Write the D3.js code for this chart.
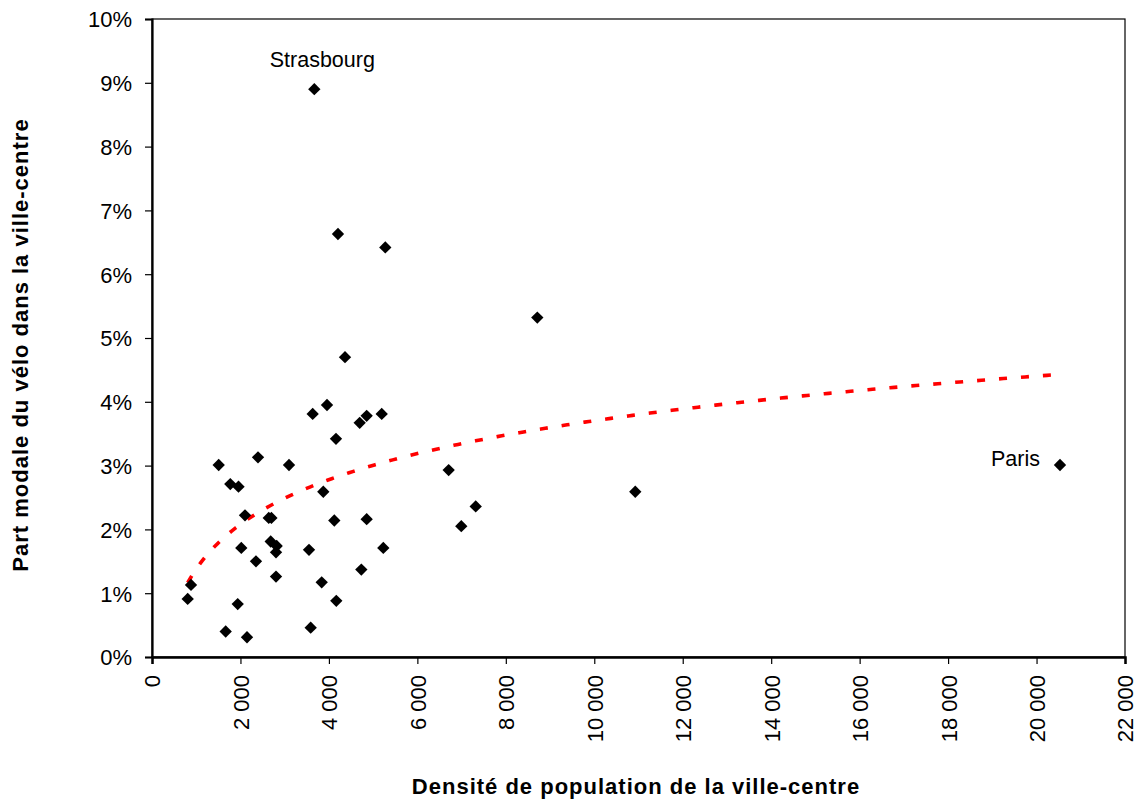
<!DOCTYPE html>
<html>
<head>
<meta charset="utf-8">
<script src="https://cdn.jsdelivr.net/npm/d3@7"></script>
<style>
  html, body { margin: 0; padding: 0; background: #fff; }
  svg { display: block; }
  text { font-family: "Liberation Sans", Arial, sans-serif; fill: #000; }
</style>
</head>
<body>
<svg id="chart" width="1141" height="801"></svg>
<script>
// Density of the central city (inhabitants / km²)
const density = [807, 882, 1508, 1666, 1770, 1956, 1938, 2019, 2103, 2148,
  2351, 2397, 2640, 2700, 2684, 2819, 2804, 2804, 3098, 3550,
  3588, 3633, 3670, 3837, 3873, 3957, 4122, 4160, 4167, 4205,
  5275, 4364, 4696, 4733, 4854, 4854, 5194, 5230, 6708, 6993,
  7319, 8712, 10927, 20530];
// Bicycle modal share in the central city (%)
const bikeShare = [0.91, 1.13, 3.01, 0.40, 2.71, 2.67, 0.83, 1.71, 2.22, 0.31,
  1.50, 3.13, 2.18, 2.18, 1.81, 1.74, 1.64, 1.26, 3.01, 1.68,
  0.46, 3.81, 8.90, 1.17, 2.59, 3.95, 2.14, 3.42, 0.88, 6.63,
  6.42, 4.70, 3.67, 1.37, 3.78, 2.16, 3.81, 1.71, 2.93, 2.05,
  2.36, 5.32, 2.59, 3.01];
// Labelled cities (index into the arrays above)
const labelNames = ["Strasbourg", "Paris"];
const labelIndex = [22, 43];

const xTicks = [0, 2000, 4000, 6000, 8000, 10000, 12000, 14000, 16000, 18000, 20000, 22000];
const yTicks = [0, 1, 2, 3, 4, 5, 6, 7, 8, 9, 10];

const svg = d3.select("#chart");
const L = 152, R = 1125, T = 19, B = 657;

const x = d3.scaleLinear().domain([0, 22000]).range([L, R]);
const y = d3.scaleLinear().domain([0, 10]).range([B, T]);

const fr = d3.formatLocale({decimal: ",", thousands: "\u00a0", grouping: [3], currency: ["", ""]});
const fmtX = fr.format(",d");

// plot frame
svg.append("rect").attr("x", L).attr("y", T).attr("width", R - L).attr("height", B - T)
  .attr("fill", "none").attr("stroke", "#000").attr("stroke-width", 1.2);

// Y axis
const yAxis = svg.append("g").attr("transform", `translate(${L},0)`)
  .call(d3.axisLeft(y).tickValues(yTicks).tickFormat(d => d + "%").tickSize(7).tickPadding(13));
yAxis.select(".domain").attr("stroke-width", 2.2);
yAxis.selectAll(".tick line").attr("stroke-width", 1.2);
yAxis.selectAll("text").attr("font-size", 22).attr("font-family", "Liberation Sans, Arial, sans-serif").attr("dy", "0.36em");

// X axis
const xAxis = svg.append("g").attr("transform", `translate(0,${B})`)
  .call(d3.axisBottom(x).tickValues(xTicks).tickFormat(fmtX).tickSize(7).tickPadding(0));
xAxis.select(".domain").attr("stroke-width", 2.5);
xAxis.selectAll(".tick line").attr("stroke-width", 1.2);
xAxis.selectAll("text")
  .attr("font-size", 22).attr("font-family", "Liberation Sans, Arial, sans-serif")
  .attr("transform", "rotate(-90)")
  .attr("text-anchor", "end")
  .attr("x", -18).attr("y", 0).attr("dy", "0.36em");

// Trend line (logarithmic least-squares fit of the data)
const lnX = density.map(Math.log);
const mx = d3.mean(lnX), my = d3.mean(bikeShare);
let sxy = 0, sxx = 0;
lnX.forEach((v, i) => { sxy += (v - mx) * (bikeShare[i] - my); sxx += (v - mx) * (v - mx); });
const a = sxy / sxx, b = my - a * mx;
const xmin = d3.min(density), xmax = d3.max(density);
const trendX = d3.range(0, 201).map(k => xmin + (xmax - xmin) * k / 200);
svg.append("path")
  .datum(trendX)
  .attr("d", d3.line().x(d => x(d)).y(d => y(a * Math.log(d) + b)))
  .attr("fill", "none").attr("stroke", "#ff0000").attr("stroke-width", 3.6)
  .attr("stroke-dasharray", "8,14");

// Points
const diamond = d3.symbol().type(d3.symbolSquare).size(76);
svg.append("g").selectAll("path.pt").data(density).join("path")
  .attr("class", "pt")
  .attr("d", diamond)
  .attr("transform", (d, i) => `translate(${x(d)},${y(bikeShare[i])}) rotate(45)`)
  .attr("fill", "#000");

// City labels
svg.append("text").attr("x", x(density[labelIndex[0]]) + 8).attr("y", y(bikeShare[labelIndex[0]]) - 22)
  .attr("text-anchor", "middle").attr("font-size", 21.5).text(labelNames[0]);
svg.append("text").attr("x", x(density[labelIndex[1]]) - 20).attr("y", y(bikeShare[labelIndex[1]]) + 1)
  .attr("text-anchor", "end").attr("font-size", 21.5).text(labelNames[1]);

// Axis titles
svg.append("text").attr("x", 636).attr("y", 794).attr("text-anchor", "middle")
  .attr("font-size", 22).attr("font-weight", "bold").attr("letter-spacing", 1)
  .text("Densité de population de la ville-centre");
svg.append("text").attr("transform", "translate(28,345) rotate(-90)").attr("text-anchor", "middle")
  .attr("font-size", 22).attr("font-weight", "bold").attr("letter-spacing", 1)
  .text("Part modale du vélo dans la ville-centre");
</script>
</body>
</html>
